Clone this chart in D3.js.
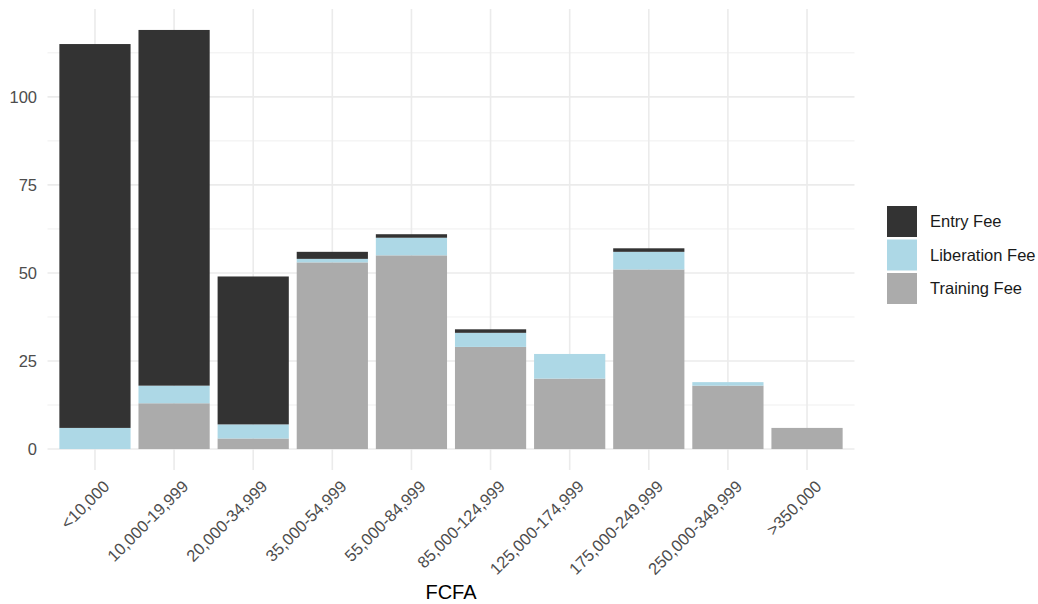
<!DOCTYPE html>
<html><head><meta charset="utf-8">
<script src="https://cdn.jsdelivr.net/npm/d3@7"></script>
<style>body{margin:0;background:#fff;} svg{display:block;font-family:"Liberation Sans",Arial,sans-serif;}</style>
</head><body><svg id="c" width="1038" height="604"></svg>
<script>
const categories = ["<10,000","10,000-19,999","20,000-34,999","35,000-54,999","55,000-84,999","85,000-124,999","125,000-174,999","175,000-249,999","250,000-349,999",">350,000"];
const trainingFee   = [0, 13, 3, 53, 55, 29, 20, 51, 18, 6];
const liberationFee = [6, 5, 4, 1, 5, 4, 7, 5, 1, 0];
const entryFee      = [109, 101, 42, 2, 1, 1, 0, 1, 0, 0];
const seriesNames = ["Training Fee","Liberation Fee","Entry Fee"];
const legendOrder = ["Entry Fee","Liberation Fee","Training Fee"];
const yTicks = [0, 25, 50, 75, 100];
const yMinor = [12.5, 37.5, 62.5, 87.5, 112.5];

(function(){
const colors = {"Entry Fee":"#333333","Liberation Fee":"#ADD8E6","Training Fee":"#ABABAB"};

const rows = categories.map((c,i)=>({cat:c,"Training Fee":trainingFee[i],"Liberation Fee":liberationFee[i],"Entry Fee":entryFee[i]}));
const stacked = d3.stack().keys(seriesNames)(rows);

const svg = d3.select("#c");
const pL = 47.5, pR = 854.5, pT = 9, pB = 470;
const x = d3.scaleBand().domain(categories).range([pL,pR]).paddingInner(0.1).paddingOuter(0.15);
const maxTot = d3.max(rows, r=>r["Training Fee"]+r["Liberation Fee"]+r["Entry Fee"]);
const y = d3.scaleLinear().domain([-0.05*maxTot, maxTot*1.05]).range([pB, pT]);

const grid = svg.append("g");
grid.selectAll(".mi").data(yMinor).join("line")
  .attr("x1",pL).attr("x2",pR).attr("y1",d=>y(d)).attr("y2",d=>y(d))
  .attr("stroke","#EBEBEB").attr("stroke-width",0.8);
grid.selectAll(".ma").data(yTicks).join("line")
  .attr("x1",pL).attr("x2",pR).attr("y1",d=>y(d)).attr("y2",d=>y(d))
  .attr("stroke","#EBEBEB").attr("stroke-width",1.6);
grid.selectAll(".vx").data(categories).join("line")
  .attr("x1",d=>x(d)+x.bandwidth()/2).attr("x2",d=>x(d)+x.bandwidth()/2)
  .attr("y1",pT).attr("y2",pB)
  .attr("stroke","#EBEBEB").attr("stroke-width",1.6);

svg.append("g").selectAll("g").data(stacked).join("g")
  .attr("fill",d=>colors[d.key])
  .selectAll("rect").data(d=>d).join("rect")
  .attr("x",d=>x(d.data.cat)).attr("width",x.bandwidth())
  .attr("y",d=>y(d[1])).attr("height",d=>Math.max(0,y(d[0])-y(d[1])));

svg.append("g").selectAll("text").data(yTicks).join("text")
  .attr("x",37).attr("y",d=>y(d)).attr("dy","0.36em")
  .attr("text-anchor","end").attr("fill","#4D4D4D").attr("font-size",16.5)
  .text(d=>d);

svg.append("g").selectAll("text").data(categories).join("text")
  .attr("transform",d=>`translate(${x(d)+x.bandwidth()/2+7},${pB+9}) rotate(-45)`)
  .attr("text-anchor","end").attr("dy","0.72em").attr("fill","#4D4D4D").attr("font-size",16.5)
  .text(d=>d);

svg.append("text").attr("x",(pL+pR)/2).attr("y",599).attr("text-anchor","middle")
  .attr("font-size",20).attr("fill","#000").text("FCFA");

const lg = svg.append("g");
legendOrder.forEach((k,i)=>{
  const yy = 206 + i*33.5;
  lg.append("rect").attr("x",887).attr("y",yy).attr("width",30).attr("height",31).attr("fill",colors[k]);
  lg.append("text").attr("x",930).attr("y",yy+15.5).attr("dy","0.36em").attr("font-size",16.5).attr("fill","#1a1a1a").text(k);
});
})();
</script></body></html>
